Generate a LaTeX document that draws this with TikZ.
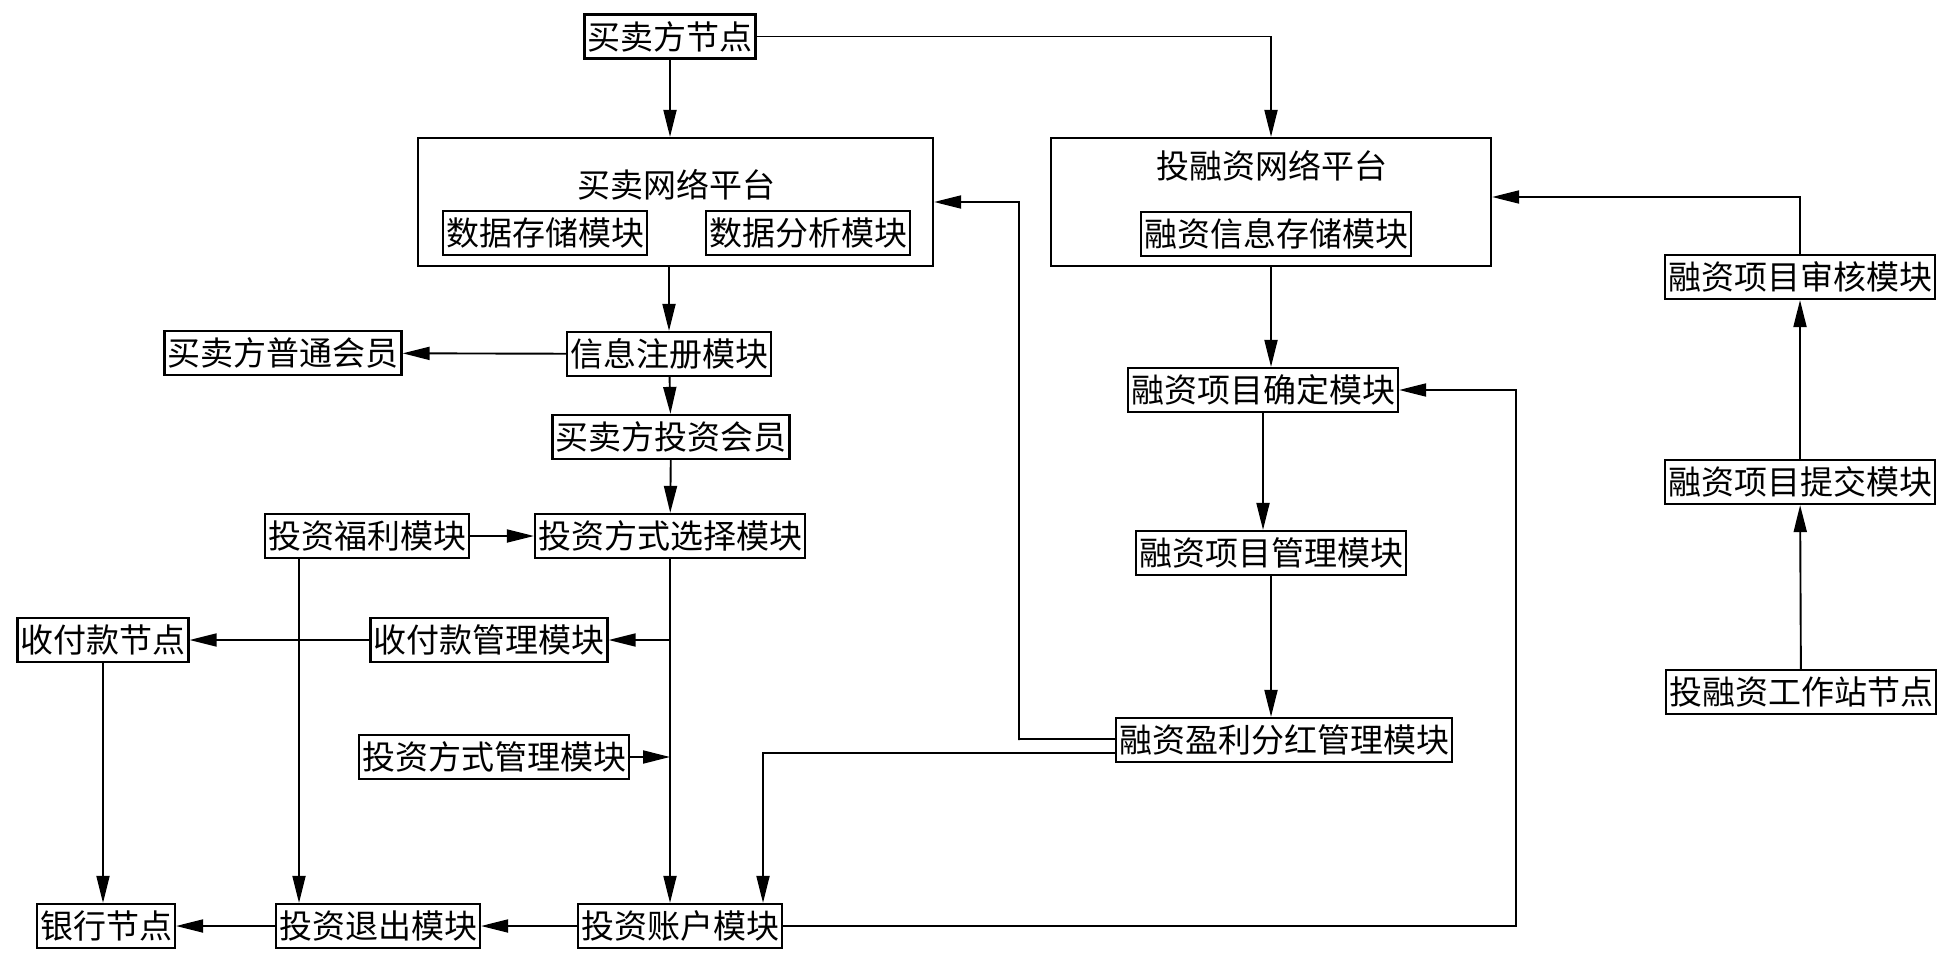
\documentclass[tikz,border=0pt]{standalone}
\usepackage{fontspec}
\setmainfont{Noto Sans CJK SC}
\usepackage{tikz}
\usetikzlibrary{arrows.meta}

\begin{document}
\begin{tikzpicture}[x=1pt,y=-1pt,
    box/.style={draw,line width=2.2pt,inner xsep=3pt,inner ysep=0pt,minimum height=44pt,font=\fontsize{33}{36}\selectfont},
    frame/.style={draw,line width=2.2pt,inner sep=0pt},
    title/.style={font=\fontsize{33}{36}\selectfont},
    arr/.style={-{Triangle[length=27pt,width=13pt]},line width=1.9pt}]

    \useasboundingbox (0,0) rectangle (1955,968);

    \node[box]   (trader)    at (670, 36.5)     {买卖方节点};

    \node[frame,minimum width=515pt,minimum height=128pt] (tradeplat) at (675.5, 202) {};
    \node[title] (tradetitle) at (676, 185)      {买卖网络平台};
    \node[box]   (store)     at (545, 233)      {数据存储模块};
    \node[box]   (analyse)   at (808, 233)      {数据分析模块};

    \node[frame,minimum width=440pt,minimum height=128pt] (finplat) at (1271, 202) {};
    \node[title] (fintitle)  at (1272, 166)     {投融资网络平台};
    \node[box]   (finstore)  at (1276, 234)     {融资信息存储模块};

    \node[box]   (reg)       at (669, 354)      {信息注册模块};
    \node[box]   (ordinary)  at (283, 353)      {买卖方普通会员};
    \node[box]   (invmem)    at (671, 437)      {买卖方投资会员};
    \node[box]   (welfare)   at (367, 536)      {投资福利模块};
    \node[box]   (choose)    at (670, 536)      {投资方式选择模块};
    \node[box]   (paynode)   at (103, 640)      {收付款节点};
    \node[box]   (paymgr)    at (489, 640)      {收付款管理模块};
    \node[box]   (waymgr)    at (494, 757)      {投资方式管理模块};
    \node[box]   (bank)      at (106, 926)      {银行节点};
    \node[box]   (exit)      at (378, 926)      {投资退出模块};
    \node[box]   (account)   at (680, 926)      {投资账户模块};

    \node[box]   (confirm)   at (1263, 390)     {融资项目确定模块};
    \node[box]   (manage)    at (1271, 553)     {融资项目管理模块};
    \node[box]   (profit)    at (1284, 740)     {融资盈利分红管理模块};
    \node[box]   (audit)     at (1800, 277)     {融资项目审核模块};
    \node[box]   (submit)    at (1800, 482)     {融资项目提交模块};
    \node[box]   (station)   at (1801, 692)     {投融资工作站节点};

    \coordinate (payjoin) at (choose.south |- paymgr.east);
    \coordinate (wayjoin) at (choose.south |- waymgr.east);
    \coordinate (loopR)   at (1516, 926);
    \coordinate (loopM)   at (1019, 740);

    \draw[arr] (trader.south) -- (trader.south |- tradeplat.north);
    \draw[arr] (trader.east) -| (finplat.north);
    \draw[arr] (reg.north |- tradeplat.south) -- (reg.north);
    \draw (reg) edge[arr] (ordinary);
    \draw (reg) edge[arr] (invmem);
    \draw (invmem) edge[arr] (choose);
    \draw (welfare) edge[arr] (choose);
    \draw[arr] (choose.south) -- (choose.south |- account.north);
    \draw (payjoin) edge[arr] (paymgr);
    \draw (paymgr) edge[arr] (paynode);
    \draw (waymgr) edge[arr] (wayjoin);
    \draw[arr] (paynode.south) -- (paynode.south |- bank.north);
    \draw[arr] ([xshift=-68pt]welfare.south) -- ([xshift=-68pt]welfare.south |- exit.north);
    \draw (account) edge[arr] (exit);
    \draw (exit) edge[arr] (bank);

    \draw[arr] (account.east) -| (loopR) |- (confirm.east);
    \draw[arr] ([yshift=1pt]profit.west) -| (loopM) |- (tradeplat.east);
    \draw[arr] ([yshift=-13pt]profit.west) -| ([xshift=83pt]account.north);

    \draw[arr] (finplat.south) -- (finplat.south |- confirm.north);
    \draw[arr] (confirm.south) -- (confirm.south |- manage.north);
    \draw[arr] (manage.south) -- (manage.south |- profit.north);
    \draw (station) edge[arr] (submit);
    \draw (submit) edge[arr] (audit);
    \draw[arr] (audit.north) |- ([yshift=5pt]finplat.east);
  \end{tikzpicture}
\end{document}
